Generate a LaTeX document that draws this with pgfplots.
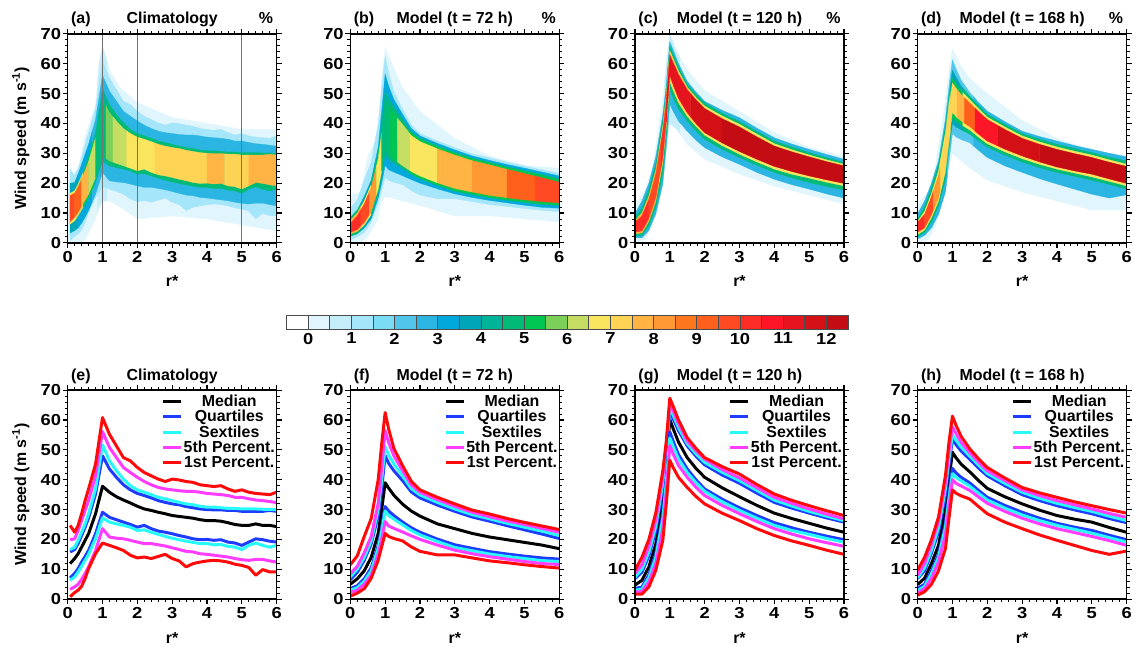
\documentclass[border=0pt]{standalone}
\usepackage{fontspec}
\setmainfont{Liberation Sans}
\newfontfamily\tickfamily{Liberation Sans}[FakeStretch=1.15]
\usepackage{pgfplots}
\usepackage{pgfplotstable}
\pgfplotsset{compat=1.18}
\usepgfplotslibrary{fillbetween}

\newcommand{\ff}{\fontsize{16}{18}\selectfont\bfseries}
\newcommand{\tf}{\fontsize{16}{18}\selectfont\tickfamily\bfseries}

% colour scale of the histograms (%)
\definecolor{cb0}{RGB}{255,255,255}
\definecolor{cb1}{RGB}{225,245,252}
\definecolor{cb2}{RGB}{198,238,250}
\definecolor{cb3}{RGB}{165,230,250}
\definecolor{cb4}{RGB}{122,220,245}
\definecolor{cb5}{RGB}{82,198,234}
\definecolor{cb6}{RGB}{43,181,226}
\definecolor{cb7}{RGB}{0,168,219}
\definecolor{cb8}{RGB}{0,165,184}
\definecolor{cb9}{RGB}{0,181,151}
\definecolor{cb10}{RGB}{0,186,117}
\definecolor{cb11}{RGB}{0,197,82}
\definecolor{cb12}{RGB}{123,208,90}
\definecolor{cb13}{RGB}{197,221,98}
\definecolor{cb14}{RGB}{249,230,94}
\definecolor{cb15}{RGB}{255,212,85}
\definecolor{cb16}{RGB}{255,180,68}
\definecolor{cb17}{RGB}{255,153,51}
\definecolor{cb18}{RGB}{255,119,28}
\definecolor{cb19}{RGB}{255,97,28}
\definecolor{cb20}{RGB}{255,74,36}
\definecolor{cb21}{RGB}{255,45,40}
\definecolor{cb22}{RGB}{255,21,40}
\definecolor{cb23}{RGB}{230,20,30}
\definecolor{cb24}{RGB}{212,16,23}
\definecolor{cb25}{RGB}{195,12,20}

\definecolor{qblue}{RGB}{30,60,255}
\definecolor{qcyan}{RGB}{40,250,250}
\definecolor{qmag}{RGB}{255,60,255}
\definecolor{qred}{RGB}{255,10,10}

% percentiles of wind speed against r*
\pgfplotstableread{
r p1 p5 p17 p25 p50 p75 p83 p95 p99
0.07 0.8 3.3 6.3 7.1 11.9 15.8 16.6 19.9 24.7
0.2 2.2 4.1 7.4 8.6 13.6 16.6 17.4 20.2 22.4
0.3 3.0 5.0 9.1 10.2 15.2 18.6 19.7 23.0 24.7
0.4 4.3 6.6 11.0 12.4 17.4 21.3 22.4 26.3 28.6
0.5 6.9 8.6 13.0 14.3 19.7 24.1 25.2 29.7 33.0
0.6 10.2 10.8 15.0 16.3 21.9 27.2 28.6 33.0 36.9
0.8 15.2 16.3 20.2 21.9 28.6 35.2 36.9 41.3 45.2
1.0 18.8 23.6 27.2 29.1 37.8 48.0 51.7 56.1 60.8
1.2 18.0 20.8 25.8 27.4 35.8 43.6 46.3 50.8 55.2
1.4 17.2 20.4 25.2 26.6 34.3 40.8 43.0 47.4 51.3
1.6 16.3 20.2 24.7 25.8 33.2 38.3 40.2 44.1 47.4
1.8 14.7 19.7 24.1 25.0 32.2 36.6 38.0 42.4 46.3
2.0 13.8 19.1 23.0 24.1 31.1 35.4 36.6 40.8 44.1
2.2 14.1 18.6 23.2 24.7 30.2 34.7 35.8 39.4 42.4
2.4 13.6 18.6 22.4 23.6 29.7 33.9 35.0 38.3 41.3
2.6 14.3 18.2 21.7 22.8 29.1 33.0 34.1 37.4 40.2
2.8 15.0 17.8 21.0 22.4 28.6 32.4 33.6 36.9 39.4
3.0 13.6 17.2 20.4 21.9 28.0 31.9 33.0 36.6 40.2
3.2 12.8 16.6 19.9 21.3 27.7 31.6 32.4 36.3 39.9
3.4 10.8 16.0 19.4 20.8 27.4 31.0 31.9 36.1 39.4
3.6 11.9 15.8 19.0 20.2 27.1 30.6 31.6 36.1 39.1
3.8 12.4 15.2 18.6 19.9 26.6 30.2 31.1 35.8 38.3
4.0 12.8 15.0 18.6 20.0 26.3 30.0 30.8 35.4 38.0
4.2 13.0 14.7 18.2 19.7 26.3 29.9 30.8 35.2 37.7
4.4 12.8 14.4 18.3 19.9 26.1 29.9 30.6 35.0 38.0
4.6 12.4 14.1 17.7 19.1 25.6 29.7 30.4 34.7 36.9
4.8 11.7 13.6 17.4 18.8 25.0 29.7 30.4 34.1 36.1
5.0 11.3 13.2 16.6 18.0 24.7 29.4 30.2 34.1 36.6
5.2 10.6 13.0 18.0 19.1 24.7 29.4 30.2 33.6 35.8
5.4 8.0 13.3 18.8 20.2 25.2 29.4 30.2 33.2 35.4
5.6 9.9 13.3 18.0 19.9 24.7 29.4 30.1 33.0 35.2
5.8 9.1 12.8 17.4 19.4 24.7 29.7 30.1 32.7 35.0
6.0 9.1 12.4 18.0 19.1 24.3 29.4 29.9 32.3 35.8
}\tabE

\pgfplotstableread{
r p1 p5 p17 p25 p50 p75 p83 p95 p99
0 1.0 2.2 3.0 3.5 5.0 6.5 7.5 8.5 11.5
0.2 2.0 3.0 3.8 4.5 6.8 9.0 10.0 11.0 14.5
0.4 3.5 5.0 6.0 6.8 9.5 13.0 14.0 15.5 21.0
0.6 7.0 8.0 9.5 10.5 14.0 18.5 19.5 21.0 27.0
0.8 13.0 15.0 17.0 18.0 22.0 28.0 30.0 32.0 40.0
0.9 17.5 20.0 22.5 24.0 30.0 37.0 40.0 44.0 52.0
1.0 22.0 26.0 29.5 31.0 39.0 48.0 51.0 56.5 62.5
1.1 21.0 24.5 28.0 29.5 37.2 45.5 48.3 52.5 57.0
1.25 20.3 23.7 26.8 28.0 34.8 43.0 45.3 48.0 50.5
1.5 19.5 22.5 24.9 25.8 31.8 39.7 41.3 43.0 44.7
1.75 17.5 21.2 23.0 23.9 29.5 35.9 37.0 38.3 39.5
2.0 16.0 20.0 21.5 22.4 27.8 33.9 34.9 35.8 36.6
2.5 14.8 18.1 19.3 20.1 25.2 31.5 32.4 33.3 34.1
3.0 14.8 16.4 17.3 18.2 23.6 29.4 30.2 31.1 31.9
3.5 13.8 15.2 16.2 17.0 22.0 27.5 28.3 29.1 29.8
4.0 12.8 14.2 15.1 15.9 20.8 26.1 26.9 27.6 28.5
4.5 12.2 13.4 14.3 15.1 19.9 24.6 25.4 26.2 27.0
5.0 11.5 12.6 13.6 14.4 19.0 23.2 24.1 25.0 25.7
5.5 10.9 11.9 12.9 13.8 18.1 21.8 22.8 23.7 24.5
6.0 10.4 11.6 12.6 13.4 16.9 20.3 21.3 22.4 23.3
}\tabF

\pgfplotstableread{
r p1 p5 p17 p25 p50 p75 p83 p95 p99
0 1.7 2.4 3.0 3.6 4.7 6.9 7.4 8.6 9.7
0.2 1.7 2.5 3.3 4.0 6.3 9.0 10.0 11.5 14.0
0.4 4.1 5.8 7.2 8.2 10.8 14.5 15.8 17.8 20.0
0.6 9.7 12.0 14.0 15.3 18.6 23.0 24.5 26.5 29.0
0.8 19.7 23.5 27.0 28.5 33.0 37.5 39.0 41.0 43.0
0.9 32.0 36.0 39.0 40.5 44.0 48.0 49.5 51.0 53.0
1.0 46.5 51.5 54.0 56.0 60.2 63.0 64.3 65.8 67.3
1.1 44.0 48.5 51.0 52.8 57.0 60.3 61.6 63.0 64.5
1.25 40.8 44.8 46.9 48.4 52.6 56.4 57.5 58.8 60.0
1.5 37.4 40.8 42.4 43.6 47.4 51.3 52.1 53.0 54.1
1.75 34.4 37.5 39.0 40.0 43.8 47.9 48.7 49.7 50.5
2.0 31.9 34.7 36.1 36.9 40.8 45.0 45.8 46.9 47.4
2.5 28.8 31.4 32.6 33.5 37.3 41.6 42.5 43.4 44.4
3.0 26.3 28.6 29.7 30.6 34.3 38.8 39.7 40.6 41.9
3.5 23.6 26.0 27.1 28.0 31.4 35.5 36.4 37.3 38.4
4.0 21.3 23.6 24.7 25.6 28.8 32.4 33.2 34.1 35.2
4.5 19.5 21.8 23.0 23.9 27.0 30.5 31.2 32.1 33.1
5.0 18.0 20.2 21.7 22.4 25.4 28.8 29.4 30.2 31.3
5.5 16.4 18.9 20.3 21.1 23.8 27.2 27.8 28.5 29.6
6.0 15.0 17.7 19.1 19.9 22.4 25.8 26.3 26.9 28.0
}\tabG

\pgfplotstableread{
r p1 p5 p17 p25 p50 p75 p83 p95 p99
0 1.3 2.1 2.8 3.6 4.9 6.9 7.2 8.0 9.7
0.2 2.5 3.5 4.3 5.0 7.0 9.5 10.5 12.0 14.0
0.4 5.0 7.0 8.5 9.5 12.0 15.5 16.5 18.5 20.0
0.6 9.5 12.5 14.0 15.0 18.0 22.5 24.0 26.0 27.5
0.8 17.0 21.5 24.0 25.5 30.0 35.0 37.0 39.0 41.5
0.9 27.0 31.0 33.5 35.0 40.0 45.0 47.0 49.5 52.5
1.0 36.6 40.0 42.0 43.8 49.2 53.5 55.0 57.8 61.3
1.1 35.5 38.8 40.8 42.3 47.4 51.8 53.3 55.5 58.3
1.25 34.6 37.9 39.6 40.8 45.2 49.6 50.9 52.5 54.5
1.5 33.5 36.4 37.8 38.9 42.6 46.8 47.9 49.0 50.3
1.75 31.0 34.2 35.4 36.4 39.7 43.9 44.9 45.9 47.0
2.0 28.6 32.1 33.2 34.1 37.1 41.3 42.1 43.0 44.1
2.5 25.8 29.4 30.5 31.4 34.3 38.0 38.8 39.7 40.6
3.0 23.6 27.1 28.2 29.1 31.9 35.0 35.8 36.6 37.4
3.5 21.5 25.2 26.3 27.1 29.8 33.0 33.8 34.7 35.6
4.0 19.7 23.6 24.7 25.4 28.0 31.3 32.1 33.0 34.1
4.5 18.0 22.3 23.4 24.1 26.8 29.9 30.7 31.6 32.6
5.0 16.3 21.0 22.1 23.0 25.8 28.6 29.4 30.2 31.3
5.5 15.0 19.6 20.6 21.4 24.0 27.0 27.8 28.7 30.0
6.0 16.1 18.0 19.1 19.9 22.4 25.6 26.3 27.4 28.8
}\tabH

% outer edges of the histograms
\pgfplotstableread{
r lo hi
0 0 21
0.3 0 25
0.5 1 36
0.8 8 46
0.9 12 60
1.0 14 66
1.2 14 58
1.5 12 52
2.0 8 47
3.0 9 42
4.0 8 40
5.0 6 38
6.0 4 38
}\edgA
\pgfplotstableread{
r lo hi
0 0 16
0.3 0 17
0.5 2 29
0.8 8 36
0.9 14 55
1.0 15.5 65.5
1.2 15 60
1.5 14 52
2.0 12.5 44
3.0 9 35
4.0 9 29
5.0 8 26
6.0 7 25
}\edgB
\pgfplotstableread{
r lo hi
0 0 12
0.3 1 18
0.5 8 25
0.8 25 48
0.9 33 60
1.0 40 70
1.2 38 64
1.5 33 58
2.0 28 51
3.0 23 44
4.0 19 37
5.0 16 32
6.0 13 29
}\edgC
\pgfplotstableread{
r lo hi
0 0 13
0.3 1 17
0.5 5 25
0.8 18 48
0.9 25 58
1.0 30 65
1.2 28 60
1.5 25 55
2.0 21 50
3.0 17 41
4.0 14 35
5.0 11 31
6.0 11 29
}\edgD

\pgfplotsset{
  panel/.style={
    scale only axis, width=210pt, height=210pt, anchor=south west,
    xmin=0, xmax=6, ymin=0, ymax=70,
    xtick={0,...,6}, ytick={0,10,...,70},
    minor x tick num=4, minor y tick num=4,
    tick align=outside, tick pos=both,
    major tick length=5pt, minor tick length=3pt,
    every major tick/.append style={black, line width=1.2pt},
    every minor tick/.append style={black, line width=0.8pt},
    axis line style={line width=1.5pt},
    tick label style={font=\tf},
    yticklabel style={inner sep=1.5pt},
    /pgf/number format/assume math mode=true,
    axis on top,
  },
  labels/.style n args={3}{
    extra description/.append code={
      \node[font=\ff, anchor=base west] at (0,1.048) {#1};
      \node[font=\ff, anchor=base] at (0.5,1.048) {#2};
      \node[font=\ff, anchor=base east] at (1,1.048) {#3};
      \node[font=\ff, anchor=base] at (0.5,-0.21) {r*};
    }
  },
  ylab/.style={
    extra description/.append code={
      \node[font=\ff, rotate=90, anchor=center] at (-0.224,0.5) {Wind speed (m s\textsuperscript{-1})};
    }
  },
  qline/.style={line width=3pt, line join=round},
  bottom/.style={
    legend style={draw=none, fill=none, at={(0.998,0.985)}, anchor=north east,
      font=\ff, row sep=0pt, inner sep=0pt, nodes={inner sep=1.2pt}},
    legend cell align=center,
    legend image code/.code={\draw[#1, line width=3pt] (0pt,0pt) -- (18pt,0pt);},
  },
}

% the quantile paths that bound the coloured bands
\newcommand{\qpaths}[2]{%
  \addplot[draw=none, name path=lo] table[x=r, y=lo] {#2};
  \addplot[draw=none, name path=hi] table[x=r, y=hi] {#2};
  \addplot[draw=none, name path=q1] table[x=r, y=p1] {#1};
  \addplot[draw=none, name path=q5] table[x=r, y=p5] {#1};
  \addplot[draw=none, name path=q17] table[x=r, y=p17] {#1};
  \addplot[draw=none, name path=q25] table[x=r, y=p25] {#1};
  \addplot[draw=none, name path=q75] table[x=r, y=p75] {#1};
  \addplot[draw=none, name path=q83] table[x=r, y=p83] {#1};
  \addplot[draw=none, name path=q95] table[x=r, y=p95] {#1};
  \addplot[draw=none, name path=q99] table[x=r, y=p99] {#1};
}
% one coloured piece of a band: lower path, upper path, r range, colour
\newcommand{\seg}[4]{%
  \addplot[fill=#4, draw=#4, line width=0.3pt] fill between[of=#1 and #2, soft clip={domain=#3}];
}

\newcommand{\pcurves}[1]{%
  \addplot[qline, black] table[x=r, y=p50] {#1};
  \addlegendentry{Median}
  \addplot[qline, qblue] table[x=r, y=p75] {#1};
  \addlegendentry{Quartiles}
  \addplot[qline, qcyan] table[x=r, y=p83] {#1};
  \addlegendentry{Sextiles}
  \addplot[qline, qmag] table[x=r, y=p95] {#1};
  \addlegendentry{5th Percent.}
  \addplot[qline, qred] table[x=r, y=p99] {#1};
  \addlegendentry{1st Percent.}
  \addplot[qline, qblue, forget plot] table[x=r, y=p25] {#1};
  \addplot[qline, qcyan, forget plot] table[x=r, y=p17] {#1};
  \addplot[qline, qmag, forget plot] table[x=r, y=p5] {#1};
  \addplot[qline, qred, forget plot] table[x=r, y=p1] {#1};
}

\begin{document}
\begin{tikzpicture}
\path (0pt,0pt) rectangle (1135pt,650pt);

% ---- top row: histograms
\begin{axis}[panel, at={(68pt,406pt)}, labels={(a)}{Climatology}{\%}, ylab]
\qpaths{\tabE}{\edgA}
\seg{lo}{hi}{0:0.85}{cb1}\seg{lo}{hi}{0.85:1.15}{cb2}\seg{lo}{hi}{1.15:6}{cb1}
\seg{q1}{q99}{0:6}{cb3}
\seg{q5}{q95}{0:0.3}{cb8}\seg{q5}{q95}{0.3:0.7}{cb7}\seg{q5}{q95}{0.7:6}{cb6}
\seg{q17}{q83}{0:0.25}{cb14}\seg{q17}{q83}{0.25:0.45}{cb13}\seg{q17}{q83}{0.45:0.75}{cb11}
\seg{q17}{q83}{0.75:1.15}{cb9}\seg{q17}{q83}{1.15:6}{cb10}
\seg{q25}{q75}{0:0.2}{cb20}\seg{q25}{q75}{0.2:0.4}{cb19}\seg{q25}{q75}{0.4:0.6}{cb16}
\seg{q25}{q75}{0.6:0.8}{cb13}\seg{q25}{q75}{0.8:1.1}{cb10}\seg{q25}{q75}{1.1:1.3}{cb12}
\seg{q25}{q75}{1.3:1.7}{cb13}\seg{q25}{q75}{1.7:2.5}{cb14}\seg{q25}{q75}{2.5:4}{cb15}
\seg{q25}{q75}{4:4.5}{cb16}\seg{q25}{q75}{4.5:5.2}{cb15}\seg{q25}{q75}{5.2:6}{cb16}
\addplot[black!55, line width=1pt] coordinates {(1,0) (1,70)};
\addplot[black!55, line width=1pt] coordinates {(2,0) (2,70)};
\addplot[black!55, line width=1pt] coordinates {(5,0) (5,70)};
\end{axis}

\begin{axis}[panel, at={(352pt,406pt)}, labels={(b)}{Model (t = 72 h)}{\%}]
\qpaths{\tabF}{\edgB}
\seg{lo}{hi}{0:6}{cb1}
\seg{q1}{q99}{0:6}{cb3}
\seg{q5}{q95}{0:0.3}{cb10}\seg{q5}{q95}{0.3:0.7}{cb8}\seg{q5}{q95}{0.7:6}{cb7}
\seg{q17}{q83}{0:0.3}{cb16}\seg{q17}{q83}{0.3:0.6}{cb14}\seg{q17}{q83}{0.6:0.85}{cb11}
\seg{q17}{q83}{0.85:1.15}{cb9}\seg{q17}{q83}{1.15:1.7}{cb10}\seg{q17}{q83}{1.7:6}{cb11}
\seg{q25}{q75}{0:0.3}{cb21}\seg{q25}{q75}{0.3:0.55}{cb20}\seg{q25}{q75}{0.55:0.75}{cb17}
\seg{q25}{q75}{0.75:0.9}{cb14}\seg{q25}{q75}{0.9:1.15}{cb10}\seg{q25}{q75}{1.15:1.35}{cb11}
\seg{q25}{q75}{1.35:1.7}{cb13}\seg{q25}{q75}{1.7:2.5}{cb14}\seg{q25}{q75}{2.5:3.5}{cb16}
\seg{q25}{q75}{3.5:4.5}{cb17}\seg{q25}{q75}{4.5:5.3}{cb19}\seg{q25}{q75}{5.3:6}{cb20}
\end{axis}

\begin{axis}[panel, at={(638pt,406pt)}, labels={(c)}{Model (t = 120 h)}{\%}]
\qpaths{\tabG}{\edgC}
\seg{lo}{hi}{0:0.85}{cb1}\seg{lo}{hi}{0.85:1.3}{cb2}\seg{lo}{hi}{1.3:6}{cb1}
\seg{q1}{q99}{0:6}{cb6}
\seg{q5}{q95}{0:6}{cb10}
\seg{q17}{q83}{0:0.7}{cb16}\seg{q17}{q83}{0.7:2}{cb15}\seg{q17}{q83}{2:6}{cb14}
\seg{q25}{q75}{0:0.4}{cb21}\seg{q25}{q75}{0.4:0.75}{cb20}\seg{q25}{q75}{0.75:0.9}{cb21}
\seg{q25}{q75}{0.9:1.6}{cb23}\seg{q25}{q75}{1.6:2.5}{cb24}\seg{q25}{q75}{2.5:6}{cb25}
\end{axis}

\begin{axis}[panel, at={(922pt,406pt)}, labels={(d)}{Model (t = 168 h)}{\%}]
\qpaths{\tabH}{\edgD}
\seg{lo}{hi}{0:6}{cb1}
\seg{q1}{q99}{0:0.85}{cb6}\seg{q1}{q99}{0.85:1.6}{cb5}\seg{q1}{q99}{1.6:6}{cb6}
\seg{q5}{q95}{0:0.8}{cb10}\seg{q5}{q95}{0.8:0.95}{cb9}\seg{q5}{q95}{0.95:1.3}{cb8}\seg{q5}{q95}{1.3:6}{cb10}
\seg{q17}{q83}{0:0.8}{cb14}\seg{q17}{q83}{0.8:0.95}{cb13}\seg{q17}{q83}{0.95:1.3}{cb11}\seg{q17}{q83}{1.3:6}{cb14}
\seg{q25}{q75}{0:0.2}{cb21}\seg{q25}{q75}{0.2:0.45}{cb20}\seg{q25}{q75}{0.45:0.65}{cb17}
\seg{q25}{q75}{0.65:1.15}{cb15}\seg{q25}{q75}{1.15:1.35}{cb16}\seg{q25}{q75}{1.35:1.65}{cb19}
\seg{q25}{q75}{1.65:2.3}{cb22}\seg{q25}{q75}{2.3:3.5}{cb24}\seg{q25}{q75}{3.5:6}{cb25}
\end{axis}

% ---- colour bar
\begin{axis}[at={(288pt,319pt)}, anchor=south west, scale only axis,
  width=564pt, height=14pt, xmin=0, xmax=26, ymin=0, ymax=1,
  xtick={1,3,...,25}, xticklabels={0,1,2,3,4,5,6,7,8,9,10,11,12},
  ytick=\empty, major tick length=0pt, tick label style={font=\tf},
  /pgf/number format/assume math mode=true,
  axis line style={draw=black!70, line width=0.8pt}, axis on top]
\addplot[fill=cb0, draw=black!70, line width=0.8pt] coordinates {(0,0) (1,0) (1,1) (0,1) (0,0)};
\addplot[fill=cb1, draw=black!70, line width=0.8pt] coordinates {(1,0) (2,0) (2,1) (1,1) (1,0)};
\addplot[fill=cb2, draw=black!70, line width=0.8pt] coordinates {(2,0) (3,0) (3,1) (2,1) (2,0)};
\addplot[fill=cb3, draw=black!70, line width=0.8pt] coordinates {(3,0) (4,0) (4,1) (3,1) (3,0)};
\addplot[fill=cb4, draw=black!70, line width=0.8pt] coordinates {(4,0) (5,0) (5,1) (4,1) (4,0)};
\addplot[fill=cb5, draw=black!70, line width=0.8pt] coordinates {(5,0) (6,0) (6,1) (5,1) (5,0)};
\addplot[fill=cb6, draw=black!70, line width=0.8pt] coordinates {(6,0) (7,0) (7,1) (6,1) (6,0)};
\addplot[fill=cb7, draw=black!70, line width=0.8pt] coordinates {(7,0) (8,0) (8,1) (7,1) (7,0)};
\addplot[fill=cb8, draw=black!70, line width=0.8pt] coordinates {(8,0) (9,0) (9,1) (8,1) (8,0)};
\addplot[fill=cb9, draw=black!70, line width=0.8pt] coordinates {(9,0) (10,0) (10,1) (9,1) (9,0)};
\addplot[fill=cb10, draw=black!70, line width=0.8pt] coordinates {(10,0) (11,0) (11,1) (10,1) (10,0)};
\addplot[fill=cb11, draw=black!70, line width=0.8pt] coordinates {(11,0) (12,0) (12,1) (11,1) (11,0)};
\addplot[fill=cb12, draw=black!70, line width=0.8pt] coordinates {(12,0) (13,0) (13,1) (12,1) (12,0)};
\addplot[fill=cb13, draw=black!70, line width=0.8pt] coordinates {(13,0) (14,0) (14,1) (13,1) (13,0)};
\addplot[fill=cb14, draw=black!70, line width=0.8pt] coordinates {(14,0) (15,0) (15,1) (14,1) (14,0)};
\addplot[fill=cb15, draw=black!70, line width=0.8pt] coordinates {(15,0) (16,0) (16,1) (15,1) (15,0)};
\addplot[fill=cb16, draw=black!70, line width=0.8pt] coordinates {(16,0) (17,0) (17,1) (16,1) (16,0)};
\addplot[fill=cb17, draw=black!70, line width=0.8pt] coordinates {(17,0) (18,0) (18,1) (17,1) (17,0)};
\addplot[fill=cb18, draw=black!70, line width=0.8pt] coordinates {(18,0) (19,0) (19,1) (18,1) (18,0)};
\addplot[fill=cb19, draw=black!70, line width=0.8pt] coordinates {(19,0) (20,0) (20,1) (19,1) (19,0)};
\addplot[fill=cb20, draw=black!70, line width=0.8pt] coordinates {(20,0) (21,0) (21,1) (20,1) (20,0)};
\addplot[fill=cb21, draw=black!70, line width=0.8pt] coordinates {(21,0) (22,0) (22,1) (21,1) (21,0)};
\addplot[fill=cb22, draw=black!70, line width=0.8pt] coordinates {(22,0) (23,0) (23,1) (22,1) (22,0)};
\addplot[fill=cb23, draw=black!70, line width=0.8pt] coordinates {(23,0) (24,0) (24,1) (23,1) (23,0)};
\addplot[fill=cb24, draw=black!70, line width=0.8pt] coordinates {(24,0) (25,0) (25,1) (24,1) (24,0)};
\addplot[fill=cb25, draw=black!70, line width=0.8pt] coordinates {(25,0) (26,0) (26,1) (25,1) (25,0)};
\end{axis}

% ---- bottom row: percentiles
\begin{axis}[panel, bottom, at={(68pt,48pt)}, labels={(e)}{Climatology}{}, ylab]
\pcurves{\tabE}
\end{axis}

\begin{axis}[panel, bottom, at={(352pt,48pt)}, labels={(f)}{Model (t = 72 h)}{}]
\pcurves{\tabF}
\end{axis}

\begin{axis}[panel, bottom, at={(638pt,48pt)}, labels={(g)}{Model (t = 120 h)}{}]
\pcurves{\tabG}
\end{axis}

\begin{axis}[panel, bottom, at={(922pt,48pt)}, labels={(h)}{Model (t = 168 h)}{}]
\pcurves{\tabH}
\end{axis}
\end{tikzpicture}
\end{document}
